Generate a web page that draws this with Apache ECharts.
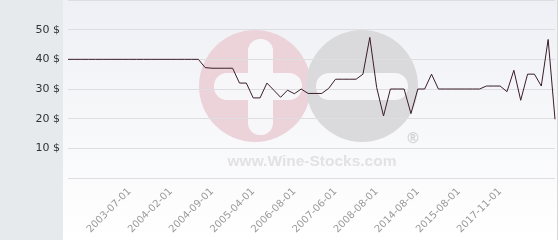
<!DOCTYPE html>
<html>
<head>
<meta charset="utf-8">
<script src="https://cdn.jsdelivr.net/npm/echarts@6/dist/echarts.min.js"></script>
<style>
html,body{margin:0;padding:0;background:#fff;}
#chart{width:560px;height:240px;}
</style>
</head>
<body>
<div id="chart"></div>
<script>
// Categories (observation dates); only some are labelled in the chart
var dates = [
  '2002-10-01','2002-11-01','2002-12-01','2003-01-01','2003-02-01','2003-03-01','2003-04-01','2003-05-01','2003-06-01',
  '2003-07-01','2003-08-01','2003-09-01','2003-10-01','2003-11-01','2004-01-01',
  '2004-02-01','2004-03-01','2004-04-01','2004-05-01','2004-06-01','2004-07-01',
  '2004-09-01','2004-10-01','2004-11-01','2004-12-01','2005-01-01','2005-02-01',
  '2005-04-01','2005-06-01','2005-09-01','2005-12-01','2006-03-01','2006-06-01',
  '2006-08-01','2006-10-01','2006-12-01','2007-01-01','2007-03-01','2007-04-01',
  '2007-06-01','2007-09-01','2007-12-01','2008-02-01','2008-04-01','2008-06-01',
  '2008-08-01','2009-06-01','2010-08-01','2011-09-01','2012-10-01','2013-09-01',
  '2014-08-01','2014-10-01','2014-12-01','2015-02-01','2015-04-01','2015-06-01',
  '2015-08-01','2015-12-01','2016-04-01','2016-08-01','2017-01-01','2017-06-01',
  '2017-11-01','2018-02-01','2018-05-01','2018-08-01','2018-11-01','2019-02-01',
  '2019-05-01','2019-08-01','2019-11-01'
];
// Dates shown as tick labels
var tickLabels = ['2003-07-01','2004-02-01','2004-09-01','2005-04-01','2006-08-01',
  '2007-06-01','2008-08-01','2014-08-01','2015-08-01','2017-11-01'];
// Price values ($)
var prices = [
  40,40,40,40,40,40,40,40,40,40,40,40,40,40,40,40,40,40,40,40,
  37.2,37,37,37,37,
  32,32,
  27,27,
  32,29.6,27.2,29.6,28.4,30,
  28.5,28.5,28.5,
  30.2,
  33.3,33.3,33.3,33.3,
  35,47.4,30.5,20.9,
  30,30,30,
  21.7,
  30,30,
  35,
  30,30,30,30,30,30,30,
  31,31,31,
  29.1,36.3,26.2,
  35,35,
  31,46.7,19.8
];
// Y tick values
var yTicks = [0,10,20,30,40,50,60];

var chart = echarts.init(document.getElementById('chart'), null, {renderer:'canvas'});
var option = {
  animation: false,
  backgroundColor: '#ffffff',
  graphic: [
    {type:'rect', z:-20, shape:{x:63,y:0,width:495,height:240},
     style:{fill:new echarts.graphic.LinearGradient(0,0,0,1,[{offset:0,color:'#eff0f5'},{offset:1,color:'#ffffff'}])}},
    {type:'rect', z:-20, shape:{x:0,y:0,width:63,height:240}, style:{fill:'#e6eaed'}},
    {type:'rect', z:-20, shape:{x:557,y:0,width:1,height:240}, style:{fill:'#d8d8d8'}},
    // watermark
    {type:'circle', z:-15, shape:{cx:255,cy:86,r:56}, style:{fill:'#ecd3d9'}},
    {type:'circle', z:-15, shape:{cx:362,cy:86,r:56}, style:{fill:'#dadadc'}},
    {type:'rect', z:-14, shape:{x:248,y:39,width:25,height:96,r:12}, style:{fill:'#f7f7fa'}},
    {type:'rect', z:-14, shape:{x:214,y:73,width:88,height:27,r:13}, style:{fill:'#f7f7fa'}},
    {type:'rect', z:-14, shape:{x:316,y:73,width:92,height:27,r:13}, style:{fill:'#f7f7fa'}},
    {type:'text', z:-14, style:{x:413,y:139,text:'®',fill:'#d6d6d8',font:'bold 15px "DejaVu Sans"',align:'center',verticalAlign:'middle'}},
    {type:'text', z:-14, style:{x:312,y:162,text:'www.Wine-Stocks.com',fill:'#e2e2e4',font:'bold 15.5px "Liberation Sans"',align:'center',verticalAlign:'middle'}}
  ],
  grid: {left:68, right:5, top:-3, bottom:62, containLabel:false},
  xAxis: {
    type:'category',
    data: dates,
    boundaryGap:false,
    axisLine:{show:false},
    axisTick:{show:false},
    splitLine:{show:false},
    axisLabel:{
      rotate:45,
      color:'#9a9a9a',
      fontSize:10,
      fontFamily:'DejaVu Sans',
      margin:12,
      interval:function(i, v){return tickLabels.indexOf(v) >= 0;}
    }
  },
  yAxis: {
    type:'value',
    min:yTicks[0], max:yTicks[yTicks.length-1], interval:10,
    axisLine:{show:false},
    axisTick:{show:false},
    splitLine:{lineStyle:{color:'#dedee2',width:1}},
    axisLabel:{
      color:'#333',
      fontSize:11,
      fontFamily:'DejaVu Sans',
      margin:8,
      formatter:function(v){return (v===0||v===60)?'':v+' $';}
    }
  },
  series: [{
    type:'line',
    data: prices,
    symbol:'none',
    lineStyle:{color:'#3a1d29',width:1},
    z:5
  }]
};
chart.setOption(option);
</script>
</body>
</html>
